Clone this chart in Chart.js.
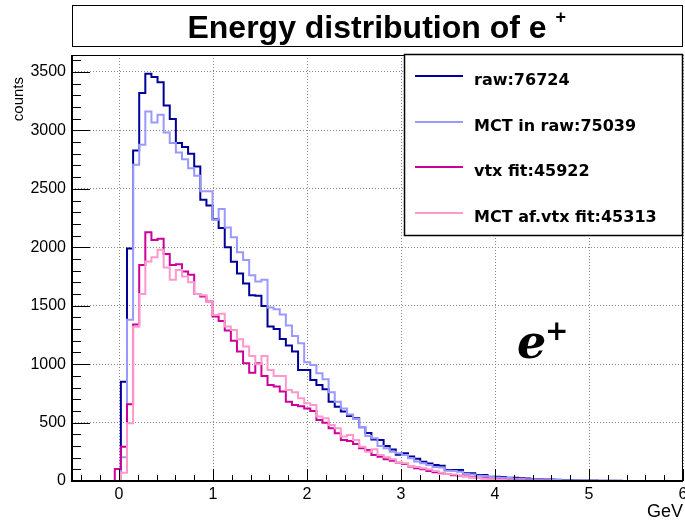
<!DOCTYPE html>
<html>
<head>
<meta charset="utf-8">
<script src="https://cdn.jsdelivr.net/npm/chart.js@4.4.0/dist/chart.umd.min.js"></script>
<style>
  html, body { margin: 0; padding: 0; background: #fff; }
</style>
</head>
<body>
<canvas id="graph01" width="685" height="521"></canvas>
<script>
// histogram binning: 100 bins from -0.5 to 6 GeV
const binLow = -0.5
const binWidth = 0.065

const xTicks = [0, 1, 2, 3, 4, 5, 6]
const yTicks = [0, 500, 1000, 1500, 2000, 2500, 3000, 3500]

const seriesLabels = ['raw:76724', 'MCT in raw:75039', 'vtx fit:45922', 'MCT af.vtx fit:45313']

// counts per bin
const rawCounts = [
  0, 0, 0, 0, 0, 0, 0, 0,
  850, 1990, 2828, 3319, 3485, 3456, 3411, 3213, 3097, 2891, 2857, 2800,
  2691, 2406, 2357, 2240, 2164, 2001, 1875, 1775, 1690, 1590,
  1585, 1498, 1321, 1300, 1215, 1160, 1107, 950, 950, 865,
  822, 785, 679, 636, 594, 557, 537, 460, 410, 355,
  350, 300, 270, 225, 237, 210, 190, 165, 150, 137,
  131, 94, 94, 94, 66, 66, 51, 51, 37, 37,
  35, 28, 28, 23, 22, 18, 15, 12, 12, 10,
  8, 8, 6, 5, 5, 4, 3, 3, 2, 2,
  1, 0, 0, 0, 0, 0, 0, 0, 0, 0
]
const mctInRaw = [
  0, 0, 0, 0, 0, 0, 0, 0,
  203, 1380, 2705, 2877, 3162, 3068, 3134, 2982, 2891, 2811, 2754, 2677,
  2611, 2480, 2480, 2235, 2328, 2170, 2086, 1958, 1890, 1760,
  1706, 1721, 1485, 1470, 1425, 1330, 1241, 1179, 1015, 993,
  922, 871, 760, 679, 620, 570, 530, 462, 385, 365,
  300, 280, 251, 237, 223, 194, 166, 151, 137, 120,
  115, 88, 85, 80, 60, 55, 45, 42, 35, 30,
  28, 25, 20, 18, 15, 14, 12, 10, 10, 8,
  7, 6, 6, 5, 4, 4, 3, 2, 2, 1,
  0, 0, 0, 0, 0, 0, 0, 0, 0, 0
]
const vtxFit = [
  0, 0, 0, 0, 0, 0, 0, 103,
  294, 656, 1340, 1849, 2129, 2063, 2072, 1943, 1849, 1855, 1792, 1764,
  1601, 1578, 1535, 1407, 1370, 1287, 1201, 1107, 1008, 927,
  1008, 899, 822, 808, 765, 679, 650, 640, 620, 600,
  522, 499, 451, 408, 351, 342, 317, 280, 265, 223,
  208, 186, 174, 157, 145, 123, 110, 100, 85, 75,
  66, 60, 50, 45, 40, 33, 26, 24, 16, 12,
  10, 8, 6, 5, 4, 3, 2, 2, 1, 0,
  0, 0, 0, 0, 0, 0, 0, 0, 0, 0,
  0, 0, 0, 0, 0, 0, 0, 0, 0, 0
]
const mctAfterVtx = [
  0, 0, 0, 0, 0, 0, 0, 0,
  70, 494, 1320, 1601, 1878, 1915, 1978, 1826, 1721, 1806, 1749, 1701,
  1601, 1590, 1535, 1421, 1430, 1321, 1293, 1213, 1150, 1070,
  1000, 1070, 950, 899, 899, 779, 760, 708, 665, 651,
  551, 536, 479, 451, 380, 394, 351, 294, 251, 272,
  223, 203, 186, 157, 151, 128, 120, 110, 98, 85,
  70, 60, 55, 45, 40, 30, 25, 20, 15, 11,
  9, 7, 5, 4, 3, 2, 2, 1, 0, 0,
  0, 0, 0, 0, 0, 0, 0, 0, 0, 0,
  0, 0, 0, 0, 0, 0, 0, 0, 0, 0
]

// left bin edges, plus the closing edge so the last bin gets its top
function histPoints(values) {
  const pts = values.map((v, k) => ({ x: binLow + k * binWidth, y: v }))
  pts.push({ x: binLow + values.length * binWidth, y: values[values.length - 1] })
  return pts
}

function histDataset(label, values, color, order) {
  return {
    label: label,
    data: histPoints(values),
    borderColor: color,
    backgroundColor: color,
    borderWidth: 2,
    pointRadius: 0,
    stepped: 'before',
    fill: false,
    order: order
  }
}

Chart.defaults.font.family = "'Liberation Sans', Arial, sans-serif"
Chart.defaults.color = '#000'

// frame, ticks, title box, legend and labels drawn ROOT-style
const rootDecor = {
  id: 'rootDecor',
  afterDraw(chart) {
    const ctx = chart.ctx
    const a = chart.chartArea
    const xs = chart.scales.x
    const ys = chart.scales.y
    ctx.save()
    ctx.strokeStyle = '#000'
    ctx.fillStyle = '#000'

    ctx.lineWidth = 1
    for (let v = 0; v <= ys.max; v += 100) {
      const py = Math.round(ys.getPixelForValue(v)) + 0.5
      const len = v % 500 === 0 ? 18 : 9
      ctx.beginPath()
      ctx.moveTo(a.left, py)
      ctx.lineTo(a.left + len, py)
      ctx.stroke()
    }
    for (let i = -2; i <= 30; i++) {
      const px = Math.round(xs.getPixelForValue(i * 0.2)) + 0.5
      const len = i % 5 === 0 ? 12 : 6
      ctx.beginPath()
      ctx.moveTo(px, a.bottom)
      ctx.lineTo(px, a.bottom - len)
      ctx.stroke()
    }

    ctx.strokeRect(a.left + 0.5, a.top + 0.5, a.right - a.left - 1, a.bottom - a.top - 1)
    ctx.lineWidth = 2
    ctx.beginPath()
    ctx.moveTo(a.left, a.top)
    ctx.lineTo(a.left, a.bottom)
    ctx.lineTo(a.right, a.bottom)
    ctx.stroke()

    // title box
    ctx.fillStyle = '#fff'
    ctx.fillRect(72, 5, 611, 42)
    ctx.lineWidth = 1
    ctx.strokeRect(72.5, 5.5, 610, 41)
    ctx.fillStyle = '#000'
    ctx.font = "bold 32px 'Liberation Sans'"
    ctx.textBaseline = 'alphabetic'
    ctx.textAlign = 'left'
    const tMain = 'Energy distribution of e'
    const wMain = ctx.measureText(tMain).width
    const tx = 377 - (wMain + 20) / 2
    ctx.fillText(tMain, tx, 38)
    ctx.font = "bold 18px 'Liberation Sans'"
    ctx.fillText('+', tx + wMain + 9, 23)

    // legend
    ctx.fillStyle = '#fff'
    ctx.fillRect(404, 54, 279, 182)
    ctx.lineWidth = 1.5
    ctx.strokeRect(404.5, 54.5, 278, 181)
    ctx.font = "bold 16px 'DejaVu Sans'"
    const rows = [76, 122, 167, 213]
    chart.data.datasets.forEach((ds, i) => {
      ctx.strokeStyle = ds.borderColor
      ctx.lineWidth = 2
      ctx.beginPath()
      ctx.moveTo(415, rows[i])
      ctx.lineTo(463, rows[i])
      ctx.stroke()
      ctx.fillStyle = '#000'
      ctx.fillText(ds.label, 474, rows[i] + 9)
    })

    // axis titles
    ctx.font = "18px 'Liberation Sans'"
    ctx.textAlign = 'right'
    ctx.fillText('GeV', 683, 517)
    ctx.save()
    ctx.translate(23, 77)
    ctx.rotate(-Math.PI / 2)
    ctx.font = "15px 'Liberation Sans'"
    ctx.fillText('counts', 0, 0)
    ctx.restore()

    // particle label
    ctx.textAlign = 'left'
    ctx.font = "bold italic 46px 'DejaVu Serif'"
    ctx.fillText('e', 517, 358)
    ctx.font = "bold 28px 'DejaVu Serif'"
    ctx.fillText('+', 545, 340)

    ctx.restore()
  }
}

const graph01 = document.getElementById('graph01')

new Chart(graph01, {
  type: 'line',
  data: {
    datasets: [
      histDataset(seriesLabels[0], rawCounts, '#000099', 3),
      histDataset(seriesLabels[1], mctInRaw, '#9999ff', 2),
      histDataset(seriesLabels[2], vtxFit, '#cc0099', 1),
      histDataset(seriesLabels[3], mctAfterVtx, '#ff99cc', 0)
    ]
  },
  options: {
    responsive: false,
    animation: false,
    layout: {
      padding: { top: 55, right: 2, left: 0, bottom: 0 }
    },
    plugins: {
      legend: { display: false },
      title: { display: false },
      tooltip: { enabled: false }
    },
    scales: {
      x: {
        type: 'linear',
        min: -0.5,
        max: 6,
        afterBuildTicks: s => { s.ticks = xTicks.map(v => ({ value: v })) },
        afterFit: s => { s.height = 40; s.paddingLeft = 0; s.paddingRight = 0 },
        grid: { color: '#888', drawTicks: false },
        border: { display: false, dash: [1, 2] },
        ticks: { font: { size: 16 }, padding: 4, maxRotation: 0, autoSkip: false, callback: v => String(v) }
      },
      y: {
        min: 0,
        max: 3645,
        afterBuildTicks: s => { s.ticks = yTicks.map(v => ({ value: v })) },
        afterFit: s => { s.width = 72; s.paddingTop = 0; s.paddingBottom = 0 },
        grid: { color: '#888', drawTicks: false },
        border: { display: false, dash: [1, 2] },
        ticks: { font: { size: 16 }, padding: 6, callback: v => String(v) }
      }
    }
  },
  plugins: [rootDecor]
})
</script>
</body>
</html>
